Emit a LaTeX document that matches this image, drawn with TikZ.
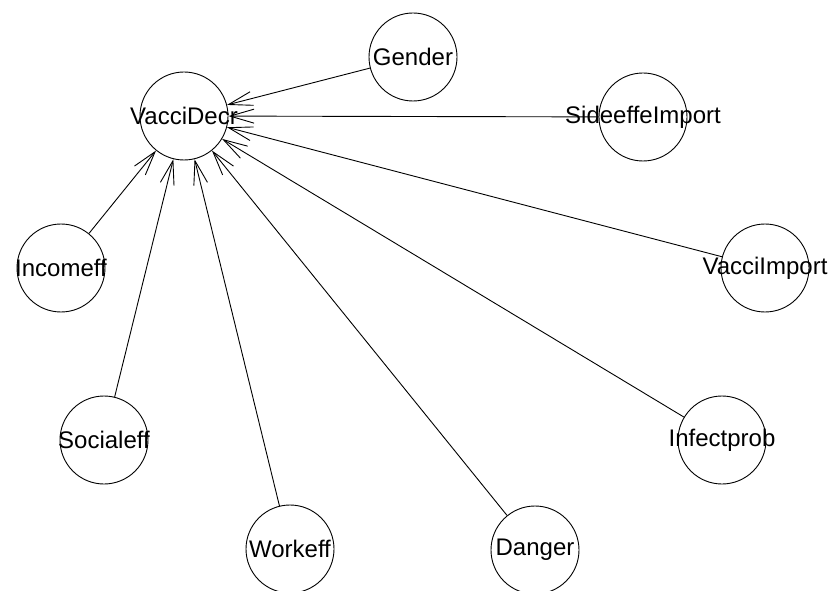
\documentclass[tikz,border=0pt]{standalone}
\usepackage{fontspec}
\setmainfont{Liberation Sans}
\usetikzlibrary{arrows.meta}
\tikzset{
	var/.style={circle, draw, line width=0.9pt, minimum size=88pt, inner sep=0pt},
	infl/.style={line width=0.9pt, -{Straight Barb[length=24pt,width=14pt,line width=0.9pt]}}
}
\begin{document}
\begin{tikzpicture}[x=1pt, y=-1pt, font=\fontsize{24}{28}\selectfont]
			%%%%% START %%%%%
			\useasboundingbox (0, 0) rectangle (831, 591);
			\clip (0, 0) rectangle (831, 591);
			
			\node[var, label=center:VacciDecr] (vaccidecr) at (184, 116) {};
			
			\node[var, label=center:Gender] (gender) at (413, 57) {};
			\node[var, label=center:SideeffeImport] (sideeffeimport) at (643, 117) {};
			\node[var, label=center:VacciImport] (vacciimport) at (765, 268) {};
			\node[var, label=center:Infectprob] (infectprob) at (722, 440) {};
			\node[var, label=center:Danger] (danger) at (535, 550) {};
			\node[var, label=center:Workeff] (workeff) at (290, 549) {};
			\node[var, label=center:Socialeff] (socialeff) at (104, 440) {};
			\node[var, label=center:Incomeff] (incomeff) at (61, 268) {};
			
			\draw[infl] (gender) -- (vaccidecr);
			\draw[infl] (sideeffeimport) -- (vaccidecr);
			\draw[infl] (vacciimport) -- (vaccidecr);
			\draw[infl] (infectprob) -- (vaccidecr);
			\draw[infl] (danger) -- (vaccidecr);
			\draw[infl] (workeff) -- (vaccidecr);
			\draw[infl] (socialeff) -- (vaccidecr);
			\draw[infl] (incomeff) -- (vaccidecr);
			
			%%%%% END %%%%%
\end{tikzpicture}
\end{document}
